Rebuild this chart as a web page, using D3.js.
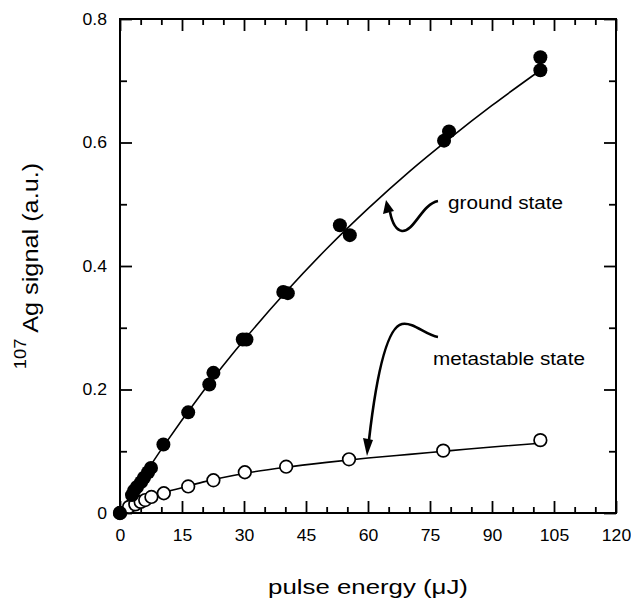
<!DOCTYPE html>
<html>
<head>
<meta charset="utf-8">
<script src="https://cdn.jsdelivr.net/npm/d3@7"></script>
<style>
  html, body { margin: 0; padding: 0; background: #fff; }
  svg { display: block; font-family: "Liberation Sans", Arial, Helvetica, sans-serif; }
</style>
</head>
<body>
<svg id="chart" width="631" height="601"></svg>
<script>
// Ground-state 107Ag signal vs. pulse energy (filled circles)
const groundEnergy = [0, 2.9, 3.4, 4.1, 5.1, 5.8, 6.8, 7.5, 10.5, 16.5, 21.6, 22.6, 29.7, 30.6, 39.5, 40.6, 53.2, 55.6, 78.4, 79.6, 101.7, 101.7];
const groundSignal = [0, 0.029, 0.036, 0.042, 0.050, 0.057, 0.066, 0.073, 0.111, 0.163, 0.208, 0.227, 0.281, 0.281, 0.358, 0.356, 0.466, 0.450, 0.603, 0.618, 0.738, 0.717];

// Metastable-state signal (open circles)
const metaEnergy = [0, 2.2, 3.7, 5.0, 6.1, 7.6, 10.6, 16.5, 22.6, 30.2, 40.2, 55.4, 78.2, 101.7];
const metaSignal = [0, 0.010, 0.014, 0.018, 0.021, 0.026, 0.032, 0.043, 0.053, 0.066, 0.075, 0.087, 0.101, 0.118];

// Smooth fitted curves through each data set
const groundFitEnergy = [0, 10, 20, 30, 40, 50, 60, 70, 80, 90, 101.7];
const groundFitSignal = [0, 0.103, 0.196, 0.280, 0.357, 0.428, 0.493, 0.553, 0.608, 0.660, 0.717];
const metaFitEnergy = [0, 2, 5, 10, 15, 20, 30, 40, 50, 60, 70, 80, 90, 101.7];
const metaFitSignal = [0, 0.009, 0.019, 0.032, 0.041, 0.050, 0.064, 0.074, 0.082, 0.089, 0.095, 0.101, 0.107, 0.113];

// Axis ticks
const xMajorTicks = [0, 15, 30, 45, 60, 75, 90, 105, 120];
const xMinorTicks = [5, 10, 20, 25, 35, 40, 50, 55, 65, 70, 80, 85, 95, 100, 110, 115];
const yMajorTicks = [0, 0.2, 0.4, 0.6, 0.8];
const yMinorTicks = [0.1, 0.3, 0.5, 0.7];
const yTickLabels = ["0", "0.2", "0.4", "0.6", "0.8"];

// Text
const xTitle = "pulse energy (\u03bcJ)";
const yTitleIsotope = "107";
const yTitleText = " Ag signal (a.u.)";
const groundLabel = "ground state";
const metaLabel = "metastable state";

const svg = d3.select("#chart");
const plotLeft = 120, plotRight = 616, plotTop = 19, plotBottom = 513;

const x = d3.scaleLinear().domain([0, 120]).range([plotLeft, plotRight]);
const y = d3.scaleLinear().domain([0, 0.8]).range([plotBottom, plotTop]);

const tickFont = 16, tickStretch = 1.1;

// Frame
svg.append("rect")
  .attr("x", plotLeft).attr("y", plotTop)
  .attr("width", plotRight - plotLeft).attr("height", plotBottom - plotTop)
  .attr("fill", "none").attr("stroke", "#000").attr("stroke-width", 2);

function styleAxis(g) {
  g.select(".domain").remove();
  g.selectAll(".tick line").attr("stroke", "#000").attr("stroke-width", 1.8);
  g.selectAll(".tick text")
    .attr("fill", "#000")
    .attr("font-size", tickFont)
    .attr("font-family", "Liberation Sans, Arial, Helvetica, sans-serif");
}

// Bottom axis with labels
const gBottom = svg.append("g").attr("transform", `translate(0,${plotBottom})`)
  .call(d3.axisBottom(x).tickValues(xMajorTicks).tickSize(-12).tickPadding(17).tickFormat(d3.format("d")))
  .call(styleAxis);
gBottom.selectAll(".tick text").attr("transform", `scale(${tickStretch},1)`);

svg.append("g").attr("transform", `translate(0,${plotBottom})`)
  .call(d3.axisBottom(x).tickValues(xMinorTicks).tickSize(-6).tickFormat(""))
  .call(styleAxis);

// Top axis (ticks only)
svg.append("g").attr("transform", `translate(0,${plotTop})`)
  .call(d3.axisTop(x).tickValues(xMajorTicks).tickSize(-12).tickFormat(""))
  .call(styleAxis);
svg.append("g").attr("transform", `translate(0,${plotTop})`)
  .call(d3.axisTop(x).tickValues(xMinorTicks).tickSize(-6).tickFormat(""))
  .call(styleAxis);

// Left axis with labels
const gLeft = svg.append("g").attr("transform", `translate(${plotLeft},0)`)
  .call(d3.axisLeft(y).tickValues(yMajorTicks).tickSize(-12).tickPadding(13)
    .tickFormat((d, i) => yTickLabels[i]))
  .call(styleAxis);
gLeft.selectAll(".tick text")
  .attr("x", -13 / tickStretch)
  .attr("transform", `scale(${tickStretch},1)`);

svg.append("g").attr("transform", `translate(${plotLeft},0)`)
  .call(d3.axisLeft(y).tickValues(yMinorTicks).tickSize(-7).tickFormat(""))
  .call(styleAxis);

// Right axis (ticks only)
svg.append("g").attr("transform", `translate(${plotRight},0)`)
  .call(d3.axisRight(y).tickValues(yMajorTicks).tickSize(-12).tickFormat(""))
  .call(styleAxis);
svg.append("g").attr("transform", `translate(${plotRight},0)`)
  .call(d3.axisRight(y).tickValues(yMinorTicks).tickSize(-7).tickFormat(""))
  .call(styleAxis);

// Axis titles
const gxt = svg.append("g").attr("transform", `translate(${(plotLeft + plotRight) / 2},594) scale(1.29,1)`);
gxt.append("text").attr("text-anchor", "middle").attr("font-size", 20).attr("fill", "#000").text(xTitle);

const gyt = svg.append("g").attr("transform", `translate(38,${(plotTop + plotBottom) / 2}) rotate(-90) scale(1.15,1)`);
const yt = gyt.append("text").attr("text-anchor", "middle").attr("font-size", 22).attr("fill", "#000");
yt.append("tspan").attr("font-size", 16).attr("dy", -12).text(yTitleIsotope);
yt.append("tspan").attr("dy", 12).text(yTitleText);

// Fitted curves
const line = d3.line().x(d => x(d[0])).y(d => y(d[1])).curve(d3.curveMonotoneX);
svg.append("path")
  .datum(groundFitEnergy.map((e, i) => [e, groundFitSignal[i]]))
  .attr("d", line).attr("fill", "none").attr("stroke", "#000").attr("stroke-width", 1.6);
svg.append("path")
  .datum(metaFitEnergy.map((e, i) => [e, metaFitSignal[i]]))
  .attr("d", line).attr("fill", "none").attr("stroke", "#000").attr("stroke-width", 1.6);

// Metastable points (open circles)
svg.append("g").selectAll("circle")
  .data(metaEnergy.map((e, i) => [e, metaSignal[i]]))
  .join("circle")
  .attr("cx", d => x(d[0])).attr("cy", d => y(d[1])).attr("r", 6.3)
  .attr("fill", "#fff").attr("stroke", "#000").attr("stroke-width", 1.7);

// Ground-state points (filled circles)
svg.append("g").selectAll("circle")
  .data(groundEnergy.map((e, i) => [e, groundSignal[i]]))
  .join("circle")
  .attr("cx", d => x(d[0])).attr("cy", d => y(d[1])).attr("r", 7)
  .attr("fill", "#000");

// Annotation arrows
svg.append("path")
  .attr("d", "M438,201 C422,204 414,232 402,231 C396,230 392,222 390,212")
  .attr("fill", "none").attr("stroke", "#000").attr("stroke-width", 2.6);
svg.append("polygon").attr("points", "386,200 383,214 394,211").attr("fill", "#000");

svg.append("path")
  .attr("d", "M438,337 C425,335 414,322 402,324 C388,327 377,370 369,440")
  .attr("fill", "none").attr("stroke", "#000").attr("stroke-width", 2.6);
svg.append("polygon").attr("points", "367,456 363,438 373,440").attr("fill", "#000");

// Annotation labels
const gl = svg.append("g").attr("transform", "translate(448,209) scale(1.12,1)");
gl.append("text").attr("font-size", 18.5).attr("fill", "#000").text(groundLabel);
const ml = svg.append("g").attr("transform", "translate(433,365) scale(1.12,1)");
ml.append("text").attr("font-size", 18.5).attr("fill", "#000").text(metaLabel);
</script>
</body>
</html>
